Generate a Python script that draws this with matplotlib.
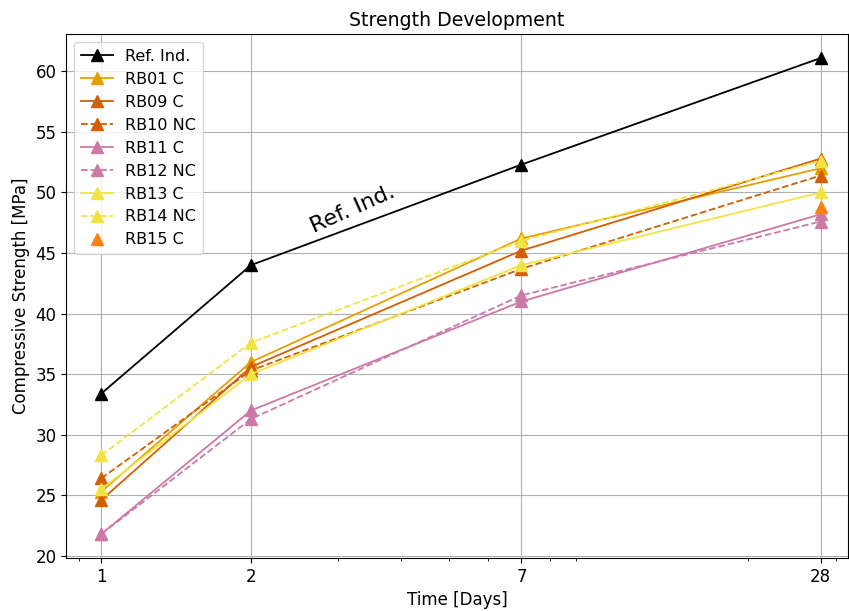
import numpy as np
import matplotlib.pyplot as plt
from matplotlib.ticker import ScalarFormatter, NullFormatter

# Curing ages and compressive strengths (MPa)
days = [1, 2, 7, 28]
ref_ind = [33.4, 44.0, 52.3, 61.1]
rb01_c = [25.3, 36.0, 46.2, 52.0]
rb09_c = [24.6, 35.6, 45.2, 52.8]
rb10_nc = [26.4, 35.3, 43.7, 51.4]
rb11_c = [21.8, 32.0, 41.0, 48.2]
rb12_nc = [21.8, 31.3, 41.5, 47.6]
rb13_c = [25.5, 35.0, 44.0, 50.0]
rb14_nc = [28.3, 37.6, 46.0, 52.6]
rb15_days = [28]
rb15_c = [48.8]

fig, ax = plt.subplots(figsize=(8.49, 6.11), dpi=100)
fig.subplots_adjust(left=0.078, right=0.999, top=0.944, bottom=0.087)

ms = 9
ax.plot(days, ref_ind, '-^', color='black', ms=ms, lw=1.3, label='Ref. Ind.')
ax.plot(days, rb01_c, '-^', color='#E69F00', ms=ms, lw=1.3, label='RB01 C')
ax.plot(days, rb09_c, '-^', color='#D55E00', ms=ms, lw=1.3, label='RB09 C')
ax.plot(days, rb10_nc, '--^', color='#D55E00', ms=ms, lw=1.3, label='RB10 NC')
ax.plot(days, rb11_c, '-^', color='#CC79A7', ms=ms, lw=1.3, label='RB11 C')
ax.plot(days, rb12_nc, '--^', color='#CC79A7', ms=ms, lw=1.3, label='RB12 NC')
ax.plot(days, rb13_c, '-^', color='#F0E442', ms=ms, lw=1.3, label='RB13 C')
ax.plot(days, rb14_nc, '--^', color='#F0E442', ms=ms, lw=1.3, label='RB14 NC')
ax.plot(rb15_days, rb15_c, '^', color='#FF7F0E', ms=ms, label='RB15 C')

ax.set_xscale('log')
ax.set_xlim(0.85, 31.8)
ax.set_xticks(days)
ax.xaxis.set_major_formatter(ScalarFormatter())
ax.xaxis.set_minor_formatter(NullFormatter())
ax.grid(True, which='major')

ax.text(3.2, 48.6, 'Ref. Ind.', fontsize=16, rotation=24, ha='center', va='center')

ax.tick_params(labelsize=12)
ax.set_xlabel('Time [Days]', fontsize=12)
ax.set_ylabel('Compressive Strength [MPa]', fontsize=12)
ax.set_title('Strength Development', fontsize=13.6)
ax.legend(loc='upper left', fontsize=11.5)

plt.savefig('out.png')
